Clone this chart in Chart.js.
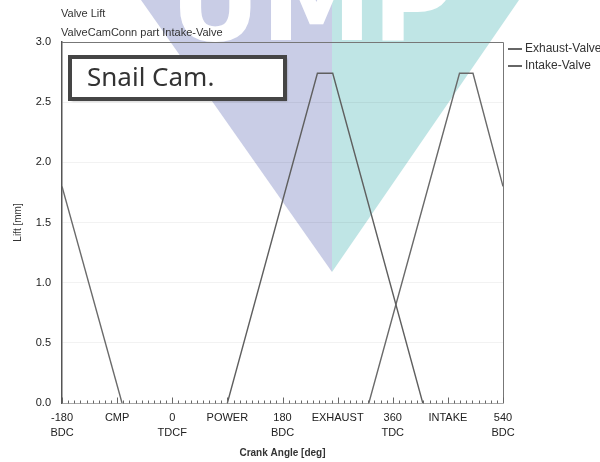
<!DOCTYPE html>
<html>
<head>
<meta charset="utf-8">
<style>
  html, body { margin: 0; padding: 0; background: #fff; }
  #wrap { width: 600px; height: 462px; position: relative; }
</style>
<script src="https://cdn.jsdelivr.net/npm/chart.js@4/dist/chart.umd.min.js"></script>
</head>
<body>
<div id="wrap"><canvas id="lift" width="600" height="462"></canvas></div>
<script>
// Crank angle axis: tick positions and their two-line labels
const crankTicks = [-180, -90, 0, 90, 180, 270, 360, 450, 540];
const crankTickLabels = [['-180', 'BDC'], 'CMP', ['0', 'TDCF'], 'POWER', ['180', 'BDC'], 'EXHAUST', ['360', 'TDC'], 'INTAKE', ['540', 'BDC']];

// Lift axis ticks (mm)
const liftTicks = [0, 0.5, 1.0, 1.5, 2.0, 2.5, 3.0];

// Exhaust valve lift profile (deg, mm)
const exhaustAngle = [-180, 90, 237, 262, 409, 540];
const exhaustLift  = [0, 0, 2.74, 2.74, 0, 0];

// Intake valve lift profile (deg, mm) – wraps around the cycle
const intakeAngle = [-180, -82, 321, 469, 491, 540];
const intakeLift  = [1.8, 0, 0, 2.74, 2.74, 1.8];

const seriesNames = ['Exhaust-Valve', 'Intake-Valve'];
const titleLines = ['Valve Lift', 'ValveCamConn part Intake-Valve'];
const noteText = 'Snail Cam.';

const FONT = "'Liberation Sans', Arial, sans-serif";

function toPoints(xs, ys) { return xs.map((x, i) => ({ x: x, y: ys[i] })); }

// hide the parts of a profile that lie on the zero baseline (valve closed)
const hideClosed = ctx => (ctx.p0.parsed.y === 0 && ctx.p1.parsed.y === 0) ? 'rgba(0,0,0,0)' : undefined;

const decor = {
  id: 'decor',
  beforeDraw(chart) {
    const c = chart.ctx;
    c.save();
    c.fillStyle = '#fff';
    c.fillRect(0, 0, chart.width, chart.height);
    // background emblem
    c.fillStyle = '#c9cde6';
    c.beginPath(); c.moveTo(141, 0); c.lineTo(332, 0); c.lineTo(332, 272); c.closePath(); c.fill();
    c.fillStyle = '#bfe5e5';
    c.beginPath(); c.moveTo(332, 0); c.lineTo(519, 0); c.lineTo(332, 272); c.closePath(); c.fill();
    c.fillStyle = '#fff';
    c.font = "bold 112px 'DejaVu Sans', sans-serif";
    c.textAlign = 'center';
    c.textBaseline = 'alphabetic';
    c.fillText('UMP', 312, 40);
    c.restore();
  },
  afterDraw(chart) {
    const c = chart.ctx;
    const a = chart.chartArea;
    const xs = chart.scales.x;
    c.save();
    // top and right frame
    c.strokeStyle = '#777';
    c.lineWidth = 1;
    c.beginPath();
    c.moveTo(a.left, a.top + 0.5); c.lineTo(a.right + 0.5, a.top + 0.5); c.lineTo(a.right + 0.5, a.bottom);
    c.stroke();
    // bottom axis with small tick marks
    c.strokeStyle = '#aaa';
    c.beginPath(); c.moveTo(a.left, a.bottom + 0.5); c.lineTo(a.right, a.bottom + 0.5); c.stroke();
    c.strokeStyle = '#666';
    c.beginPath();
    for (let d = -180; d <= 540; d += 10) {
      const px = Math.round(xs.getPixelForValue(d)) + 0.5;
      const h = (d % 90 === 0) ? 6 : 3;
      c.moveTo(px, a.bottom + 0.5); c.lineTo(px, a.bottom + 0.5 - h);
    }
    c.stroke();

    // titles
    c.fillStyle = '#333';
    c.font = '11px ' + FONT;
    c.textAlign = 'left';
    c.textBaseline = 'middle';
    c.fillText(titleLines[0], 61, 14);
    c.fillText(titleLines[1], 61, 33);

    // legend
    c.font = '12px ' + FONT;
    chart.data.datasets.forEach((ds, i) => {
      const y = 49 + i * 17;
      c.strokeStyle = '#333';
      c.lineWidth = 1.5;
      c.beginPath(); c.moveTo(508, y); c.lineTo(522, y); c.stroke();
      c.fillStyle = '#333';
      c.fillText(ds.label, 525, y);
    });

    // note box
    c.shadowColor = 'rgba(0,0,0,0.35)';
    c.shadowOffsetX = 2; c.shadowOffsetY = 2; c.shadowBlur = 2;
    c.fillStyle = '#fff';
    c.fillRect(70, 57, 215, 42);
    c.shadowColor = 'rgba(0,0,0,0)';
    c.strokeStyle = '#454545';
    c.lineWidth = 4;
    c.strokeRect(70, 57, 215, 42);
    c.fillStyle = '#333';
    c.font = "26px 'Noto Sans', sans-serif";
    c.textBaseline = 'middle';
    c.fillText(noteText, 87, 79);
    c.restore();
  }
};

new Chart(document.getElementById('lift'), {
  type: 'line',
  data: {
    datasets: [
      { label: seriesNames[0], data: toPoints(exhaustAngle, exhaustLift), borderColor: '#5f5f5f', borderWidth: 1.4, pointRadius: 0, segment: { borderColor: hideClosed } },
      { label: seriesNames[1], data: toPoints(intakeAngle, intakeLift), borderColor: '#6a6a6a', borderWidth: 1.4, pointRadius: 0, segment: { borderColor: hideClosed } }
    ]
  },
  options: {
    responsive: false,
    animation: false,
    devicePixelRatio: 1,
    layout: { padding: { top: 42, right: 97, left: 0, bottom: 0 } },
    plugins: { legend: { display: false }, title: { display: false }, tooltip: { enabled: false } },
    scales: {
      x: {
        type: 'linear', min: -180, max: 540,
        afterBuildTicks: s => { s.ticks = crankTicks.map(v => ({ value: v })); },
        afterFit: s => { s.height = 59; },
        ticks: {
          autoSkip: false, maxRotation: 0, padding: 0, color: '#222',
          font: { family: FONT, size: 11, lineHeight: 1.35 },
          callback: v => crankTickLabels[crankTicks.indexOf(v)]
        },
        grid: { display: false },
        border: { display: false },
        title: { display: true, text: 'Crank Angle [deg]', color: '#333', font: { family: FONT, size: 10, weight: 'bold' }, padding: { top: 0, bottom: 3 } }
      },
      y: {
        min: 0, max: 3,
        afterBuildTicks: s => { s.ticks = liftTicks.map(v => ({ value: v })); },
        afterFit: s => { s.width = 62; },
        ticks: { padding: 11, color: '#222', font: { family: FONT, size: 11 }, callback: v => v.toFixed(1) },
        grid: { color: 'rgba(0,0,0,0.05)', drawTicks: false, tickLength: 0 },
        border: { display: true, color: '#555', width: 1.5 },
        title: { display: true, text: 'Lift [mm]', color: '#333', font: { family: FONT, size: 10 }, padding: { top: 12, bottom: 0 } }
      }
    }
  },
  plugins: [decor]
});
</script>
</body>
</html>
